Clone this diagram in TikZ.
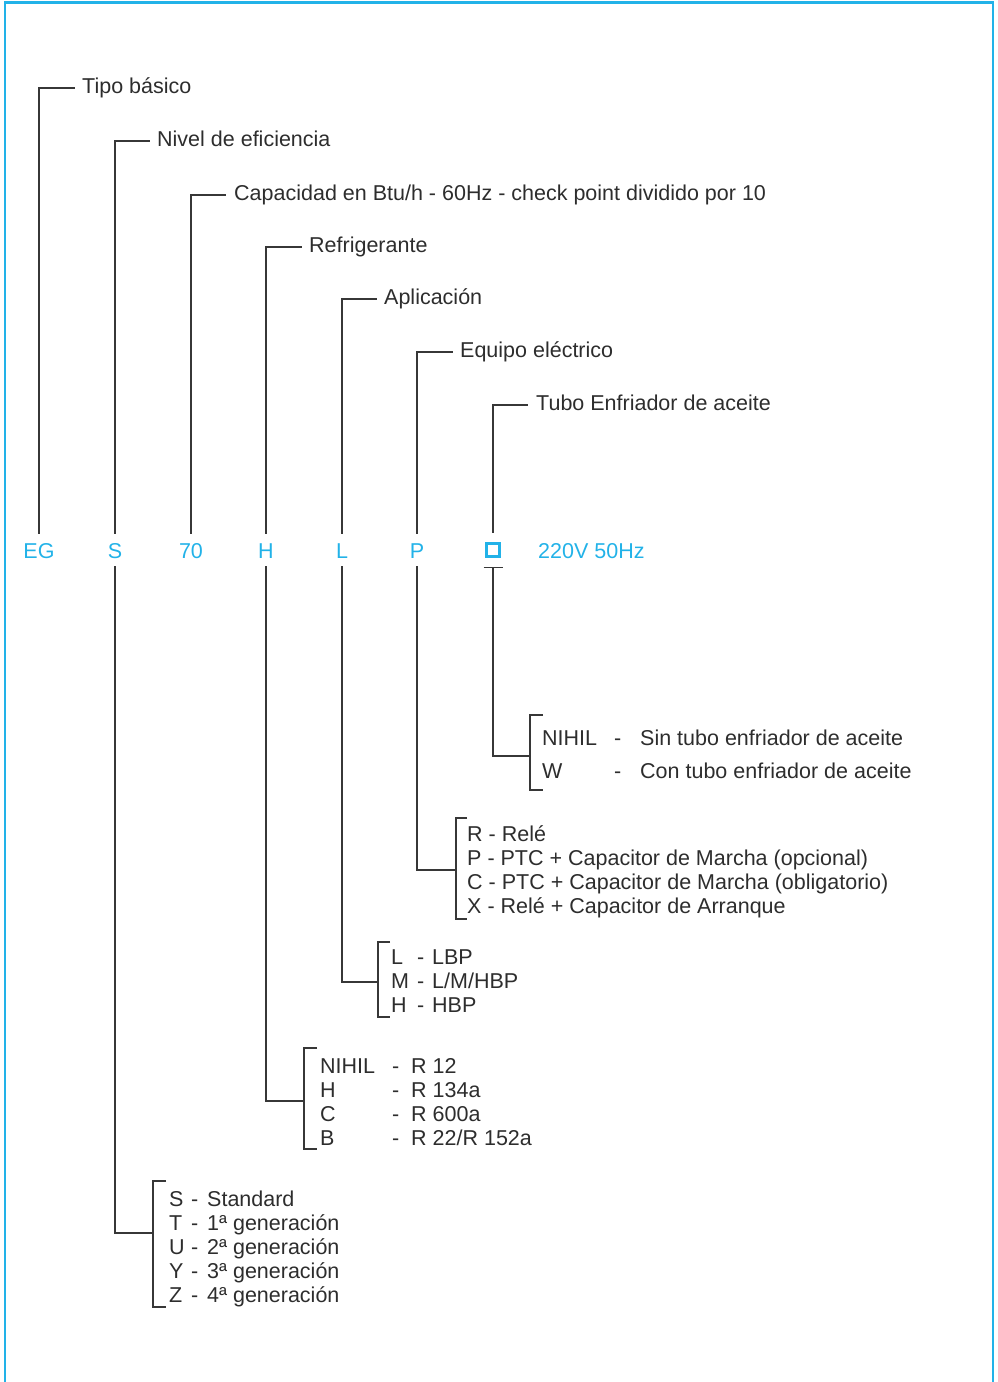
\documentclass[tikz,border=0pt]{standalone}
\usepackage{fontspec}
\setmainfont{Liberation Sans}
\definecolor{cblue}{RGB}{34,178,232}
\definecolor{lgray}{RGB}{55,55,55}
\definecolor{tgray}{RGB}{45,45,45}
\newcommand\fs{\fontsize{21.5}{24}\selectfont}
\newcommand\brk[4]{\draw[ln] (#1+#4,#2) -- (#1,#2) -- (#1,#3) -- (#1+#4,#3);}
\begin{document}
\begin{tikzpicture}[x=1pt,y=-1pt,
  ln/.style={draw=lgray,line width=1.3pt},
  code/.style={anchor=base,inner sep=0pt,text height=15pt,text depth=4pt,text=cblue,font=\fs},
  lbl/.style={anchor=base west,inner sep=0pt,text height=15pt,text depth=4pt,text=tgray,font=\fs}]
\useasboundingbox (0,0) rectangle (997,1382);
% border
\draw[cblue,line width=2.4pt] (5,1382) -- (5,2.5) -- (993,2.5) -- (993,1382);
% code row
\node[code] (eg) at (39,558) {EG};
\node[code] (s) at (115,558) {S};
\node[code] (n70) at (191,558) {70};
\node[code] (h) at (266,558) {H};
\node[code] (l) at (342,558) {L};
\node[code] (p) at (417,558) {P};
\node[draw=cblue,line width=3pt,minimum size=13.5pt,inner sep=0pt] (box) at (493,550) {};
\node[code,anchor=base west] (volt) at (538,558) {220V 50Hz};
% top labels
\node[lbl] (tipo) at (82,93.5) {Tipo básico};
\node[lbl] (nivel) at (157,146.5) {Nivel de eficiencia};
\node[lbl] (cap) at (234,200.5) {Capacidad en Btu/h - 60Hz - check point dividido por 10};
\node[lbl] (refr) at (309,252.5) {Refrigerante};
\node[lbl] (apl) at (384,304.5) {Aplicación};
\node[lbl] (equ) at (460,357.5) {Equipo eléctrico};
\node[lbl] (tubo) at (536,410.5) {Tubo Enfriador de aceite};
\draw[ln] ([yshift=9pt]eg.north) |- ([xshift=-7pt]tipo.west);
\draw[ln] ([yshift=9pt]s.north) |- ([xshift=-7pt]nivel.west);
\draw[ln] ([yshift=9pt]n70.north) |- ([xshift=-8pt]cap.west);
\draw[ln] ([yshift=9pt]h.north) |- ([xshift=-7pt]refr.west);
\draw[ln] ([yshift=9pt]l.north) |- ([xshift=-7pt]apl.west);
\draw[ln] ([yshift=9pt]p.north) |- ([xshift=-7pt]equ.west);
\draw[ln] ([yshift=9pt]box.north) |- ([xshift=-8pt]tubo.west);
% bracket connection points
\coordinate (bT) at (530,756);
\coordinate (bP) at (456,870);
\coordinate (bL) at (378,982);
\coordinate (bH) at (304,1101);
\coordinate (bS) at (153,1233);
% brackets
\brk{530}{715}{790}{13}
\brk{456}{818}{919}{11}
\brk{378}{942}{1017}{12}
\brk{304}{1048}{1149}{13}
\brk{153}{1181}{1307}{13}
% down connectors
\coordinate (bt) at ([yshift=-9pt]box.south);
\draw[ln] ([xshift=-9.5pt]bt) -- ([xshift=9.5pt]bt);
\draw[ln] (bt) |- (bT);
\draw[ln] ([yshift=-4pt]p.south) |- (bP);
\draw[ln] ([yshift=-4pt]l.south) |- (bL);
\draw[ln] ([yshift=-4pt]h.south) |- (bH);
\draw[ln] ([yshift=-4pt]s.south) |- (bS);
% tubo list
\node[lbl] (t1a) at (542,745) {NIHIL};
\node[lbl] (t1b) at (614,745) {-};
\node[lbl] (t1c) at (640,745) {Sin tubo enfriador de aceite};
\node[lbl] (t2a) at (542,778) {W};
\node[lbl] (t2b) at (614,778) {-};
\node[lbl] (t2c) at (640,778) {Con tubo enfriador de aceite};
% P list
\node[lbl] (p1) at (467,841) {R - Relé};
\node[lbl] (p2) at (467,865) {P - PTC + Capacitor de Marcha (opcional)};
\node[lbl] (p3) at (467,889) {C - PTC + Capacitor de Marcha (obligatorio)};
\node[lbl] (p4) at (467,913) {X - Relé + Capacitor de Arranque};
% L list
\node[lbl] (l1a) at (391,964) {L};
\node[lbl] (l1b) at (417,964) {-};
\node[lbl] (l1c) at (432,964) {LBP};
\node[lbl] (l2a) at (391,988) {M};
\node[lbl] (l2b) at (417,988) {-};
\node[lbl] (l2c) at (432,988) {L/M/HBP};
\node[lbl] (l3a) at (391,1012) {H};
\node[lbl] (l3b) at (417,1012) {-};
\node[lbl] (l3c) at (432,1012) {HBP};
% H list
\node[lbl] (h1a) at (320,1073) {NIHIL};
\node[lbl] (h1b) at (392,1073) {-};
\node[lbl] (h1c) at (411,1073) {R 12};
\node[lbl] (h2a) at (320,1097) {H};
\node[lbl] (h2b) at (392,1097) {-};
\node[lbl] (h2c) at (411,1097) {R 134a};
\node[lbl] (h3a) at (320,1121) {C};
\node[lbl] (h3b) at (392,1121) {-};
\node[lbl] (h3c) at (411,1121) {R 600a};
\node[lbl] (h4a) at (320,1145) {B};
\node[lbl] (h4b) at (392,1145) {-};
\node[lbl] (h4c) at (411,1145) {R 22/R 152a};
% S list
\node[lbl] (s1a) at (169,1206) {S};
\node[lbl] (s1b) at (191,1206) {-};
\node[lbl] (s1c) at (207,1206) {Standard};
\node[lbl] (s2a) at (169,1230) {T};
\node[lbl] (s2b) at (191,1230) {-};
\node[lbl] (s2c) at (207,1230) {1ª generación};
\node[lbl] (s3a) at (169,1254) {U};
\node[lbl] (s3b) at (191,1254) {-};
\node[lbl] (s3c) at (207,1254) {2ª generación};
\node[lbl] (s4a) at (169,1278) {Y};
\node[lbl] (s4b) at (191,1278) {-};
\node[lbl] (s4c) at (207,1278) {3ª generación};
\node[lbl] (s5a) at (169,1302) {Z};
\node[lbl] (s5b) at (191,1302) {-};
\node[lbl] (s5c) at (207,1302) {4ª generación};
\end{tikzpicture}
\end{document}
